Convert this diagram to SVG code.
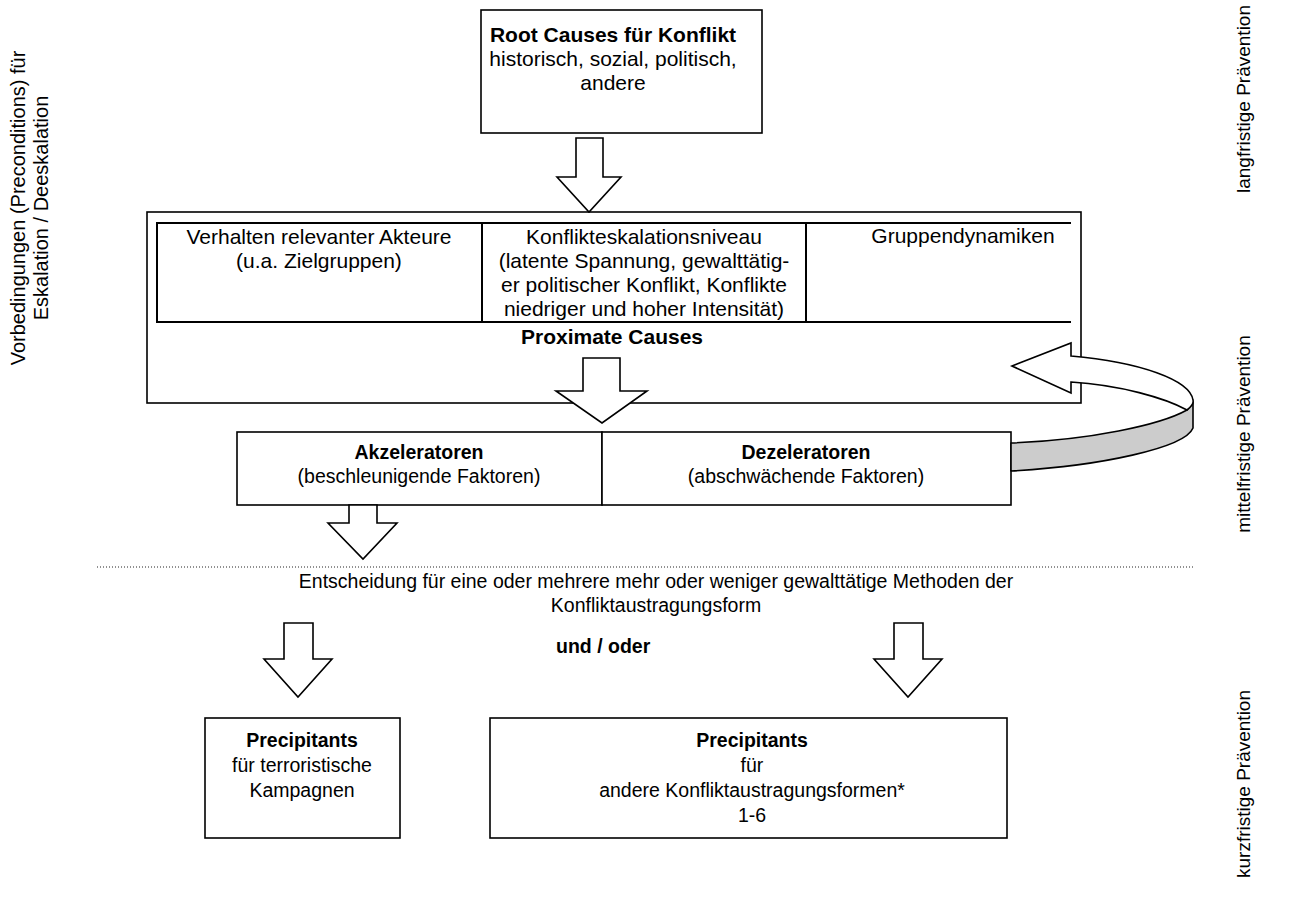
<svg xmlns="http://www.w3.org/2000/svg" width="1290" height="903" viewBox="0 0 1290 903">
<style>
text{font-family:"Liberation Sans",Arial,Helvetica,sans-serif;font-size:21px;fill:#000}
.b{font-weight:bold}
.m{text-anchor:middle}
.s{font-size:19.5px}
.box{fill:#fff;stroke:#000;stroke-width:1.6}
.ln{stroke:#000;stroke-width:2;fill:none}
.arr{fill:#fff;stroke:#000;stroke-width:1.6;stroke-linejoin:miter}
.gray{fill:#cccccc;stroke:#000;stroke-width:1.6;stroke-linejoin:round}
.v{font-size:20px}
.vr{font-size:19px}
.dot{stroke:#222;stroke-width:1;stroke-dasharray:1 2}
</style>
<rect width="1290" height="903" fill="#fff"/>

<g id="side-labels">
<text class="m v" transform="translate(25,208) rotate(-90)">Vorbedingungen (Preconditions) für</text>
<text class="m v" transform="translate(48,208) rotate(-90)">Eskalation / Deeskalation</text>
<text class="m vr" transform="translate(1250,99) rotate(-90)">langfristige Prävention</text>
<text class="m vr" transform="translate(1250,434) rotate(-90)">mittelfristige Prävention</text>
<text class="m vr" transform="translate(1250,784) rotate(-90)">kurzfristige Prävention</text>
</g>

<g id="root-causes">
<rect class="box" x="481" y="10" width="281" height="123"/>
<text class="m b" x="613" y="42">Root Causes für Konflikt</text>
<text class="m" x="613" y="66">historisch, sozial, politisch,</text>
<text class="m" x="613" y="90">andere</text>
</g>

<g id="proximate-causes">
<rect class="box" x="147" y="212" width="934" height="191"/>
<path class="ln" d="M1071,223 H157 V322 H1071"/>
<text class="m b" x="612" y="344">Proximate Causes</text>
</g>

<g id="cell-akteure">
<text class="m" x="319" y="244">Verhalten relevanter Akteure</text>
<text class="m" x="319" y="268">(u.a. Zielgruppen)</text>
</g>

<g id="cell-eskalationsniveau">
<path class="ln" d="M482,223 V322"/>
<text class="m" x="644" y="244">Konflikteskalationsniveau</text>
<text class="m" x="644" y="268">(latente Spannung, gewalttätig-</text>
<text class="m" x="644" y="292">er politischer Konflikt, Konflikte</text>
<text class="m" x="644" y="316">niedriger und hoher Intensität)</text>
</g>

<g id="cell-gruppendynamiken">
<path class="ln" d="M806,223 V322"/>
<text class="m" x="963" y="243">Gruppendynamiken</text>
</g>

<g id="akzeleratoren">
<rect class="box" x="237" y="432" width="365" height="73"/>
<text class="m b s" x="419" y="459">Akzeleratoren</text>
<text class="m s" x="419" y="483">(beschleunigende Faktoren)</text>
</g>

<g id="dezeleratoren">
<rect class="box" x="602" y="432" width="409" height="73"/>
<text class="m b s" x="806" y="459">Dezeleratoren</text>
<text class="m s" x="806" y="483">(abschwächende Faktoren)</text>
</g>

<g id="entscheidung">
<line class="dot" x1="97" y1="567" x2="1195" y2="567"/>
<text class="m s" x="656" y="588">Entscheidung für eine oder mehrere mehr oder weniger gewalttätige Methoden der</text>
<text class="m s" x="656" y="612">Konfliktaustragungsform</text>
<text class="b s" x="556" y="653">und / oder</text>
</g>

<g id="precipitants-terror">
<rect class="box" x="205" y="718" width="195" height="120"/>
<text class="m b s" x="302" y="747">Precipitants</text>
<text class="m s" x="302" y="772">für terroristische</text>
<text class="m s" x="302" y="797">Kampagnen</text>
</g>

<g id="precipitants-andere">
<rect class="box" x="490" y="718" width="517" height="120"/>
<text class="m b s" x="752" y="747">Precipitants</text>
<text class="m s" x="752" y="772">für</text>
<text class="m s" x="752" y="797">andere Konfliktaustragungsformen*</text>
<text class="m s" x="752" y="822">1-6</text>
</g>

<g id="connectors">
<path class="arr" d="M576,138 H603 V177 H621 L589,212 L557,177 H576 Z"/>
<path class="arr" d="M583,358 H620 V391 H647 L602,423 L556,391 H583 Z"/>
<path class="arr" d="M349,505 H377 V523 H397 L363,559 L328,523 H349 Z"/>
<path class="arr" d="M284,623 H313 V659 H332 L298,697 L264,659 H284 Z"/>
<path class="arr" d="M894,623 H923 V659 H942 L908,697 L874,659 H894 Z"/>
<path class="gray" d="M1011,443 C1090,440 1160,425 1187,410 L1193,402 L1193,428 C1185,448 1100,466 1011,471 Z"/>
<path class="arr" d="M1012,366 L1071,343 L1071,356 C1140,362 1190,380 1193,400 C1194,404 1191,407 1187,410 C1165,398 1120,385 1071,382 L1071,393 Z"/>
</g>
</svg>
